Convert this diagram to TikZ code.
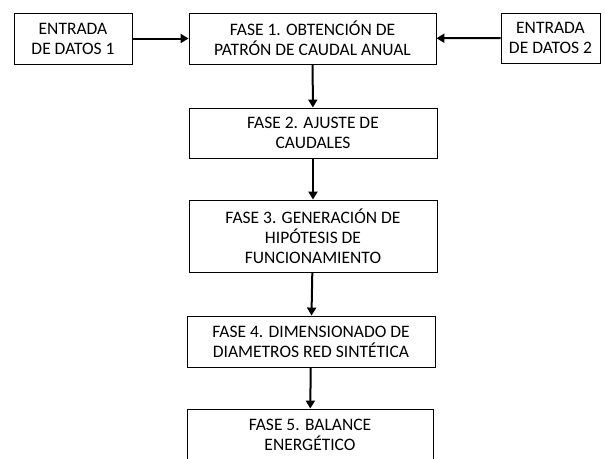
\documentclass[tikz,border=0pt]{standalone}
\usepackage{fontspec}
\setmainfont{Carlito}
\usetikzlibrary{arrows.meta}

\begin{document}
\begin{tikzpicture}[x=1pt, y=1pt,
    fase/.style={draw, line width=0.9pt, align=center, inner sep=0pt,
      font=\fontsize{17.5}{20}\selectfont},
    flecha/.style={line width=2pt, -{Triangle[length=8pt,width=9pt]}}]

      \path[use as bounding box, clip] (0,0) rectangle (605,-458);

      %% entradas
      \node[fase, minimum width=118, minimum height=51] (entrada1) at (73,-38.5)
        {ENTRADA\\ DE DATOS 1};
      \node[fase, minimum width=99, minimum height=50] (entrada2) at (550.5,-38)
        {ENTRADA\\ DE DATOS 2};
      %% fases
      \node[fase, minimum width=247, minimum height=51] (fase1) at (312.5,-38.5)
        {FASE 1. OBTENCIÓN DE\\ PATRÓN DE CAUDAL ANUAL};
      \node[fase, minimum width=248, minimum height=50] (fase2) at (313,-133)
        {FASE 2. AJUSTE DE\\ CAUDALES};
      \node[fase, minimum width=248, minimum height=72] (fase3) at (313,-236)
        {FASE 3. GENERACIÓN DE\\ HIPÓTESIS DE\\ FUNCIONAMIENTO};
      \node[fase, minimum width=248, minimum height=51] (fase4) at (311,-341.5)
        {FASE 4. DIMENSIONADO DE\\ DIAMETROS RED SINTÉTICA};
      \node[fase, minimum width=246, minimum height=51, text depth=0pt] (fase5) at (310,-434.5)
        {FASE 5. BALANCE\\ ENERGÉTICO};
      %%
      \draw[flecha] (entrada1) -- (fase1);
      \draw[flecha] (entrada2) -- (fase1);
      \draw[flecha] (fase1) -- (fase2);
      \draw[flecha] (fase2) -- (fase3);
      \draw[flecha] (fase3) -- (fase4);
      \draw[flecha] (fase4) -- (fase5);

\end{tikzpicture}
\end{document}
